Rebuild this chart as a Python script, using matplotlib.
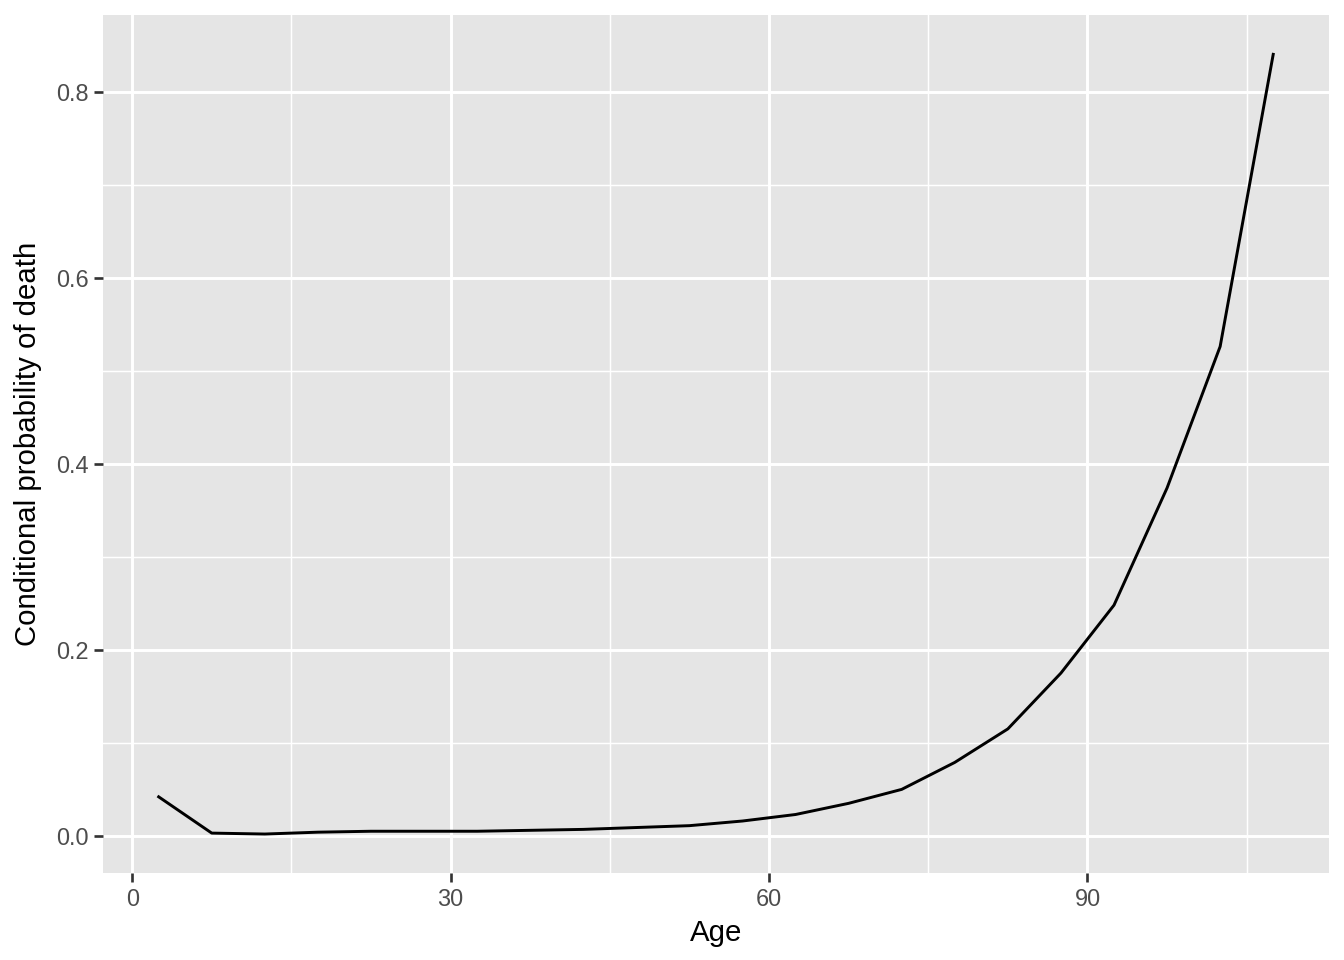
import numpy as np
import matplotlib.pyplot as plt

# Age-group midpoints and conditional probability of death
ages = [2.5, 7.5, 12.5, 17.5, 22.5, 27.5, 32.5, 37.5, 42.5, 47.5, 52.5,
        57.5, 62.5, 67.5, 72.5, 77.5, 82.5, 87.5, 92.5, 97.5, 102.5, 107.5]
prob_death = [0.042, 0.003, 0.002, 0.004, 0.005, 0.005, 0.005, 0.006, 0.007,
              0.009, 0.011, 0.016, 0.023, 0.035, 0.050, 0.079, 0.115, 0.175,
              0.248, 0.374, 0.526, 0.840]
x_ticks = [0, 30, 60, 90]
y_ticks = [0.0, 0.2, 0.4, 0.6, 0.8]

plt.rcParams['font.family'] = ['Liberation Sans', 'DejaVu Sans']

fig = plt.figure(figsize=(7, 5), dpi=192)
ax = fig.add_axes([0.0766, 0.0906, 0.9122, 0.8934])
ax.set_facecolor("#E5E5E5")

ax.plot(ages, prob_death, color="black", linewidth=1.1, zorder=3)

# ggplot-style expansion (5%)
xr = max(ages) - min(ages)
yr = max(prob_death) - min(prob_death)
ax.set_xlim(min(ages) - 0.05 * xr, max(ages) + 0.05 * xr)
ax.set_ylim(min(prob_death) - 0.05 * yr, max(prob_death) + 0.05 * yr)

ax.set_xticks(x_ticks)
ax.set_yticks(y_ticks)
ax.set_yticklabels([f"{v:.1f}" for v in y_ticks])
ax.set_xticks([15, 45, 75, 105], minor=True)
ax.set_yticks([0.1, 0.3, 0.5, 0.7], minor=True)

ax.grid(which="major", color="white", linewidth=1.1)
ax.grid(which="minor", color="white", linewidth=0.55)
ax.set_axisbelow(True)
for s in ax.spines.values():
    s.set_visible(False)

ax.tick_params(which="major", length=3.5, width=1.0, color="#333333",
               labelcolor="#4D4D4D", labelsize=8.8, pad=2)
ax.tick_params(which="minor", length=0)

ax.set_xlabel("Age", fontsize=11, labelpad=3)
ax.set_ylabel("Conditional probability of death", fontsize=11, labelpad=5)

fig.savefig("out.png", dpi=192)
